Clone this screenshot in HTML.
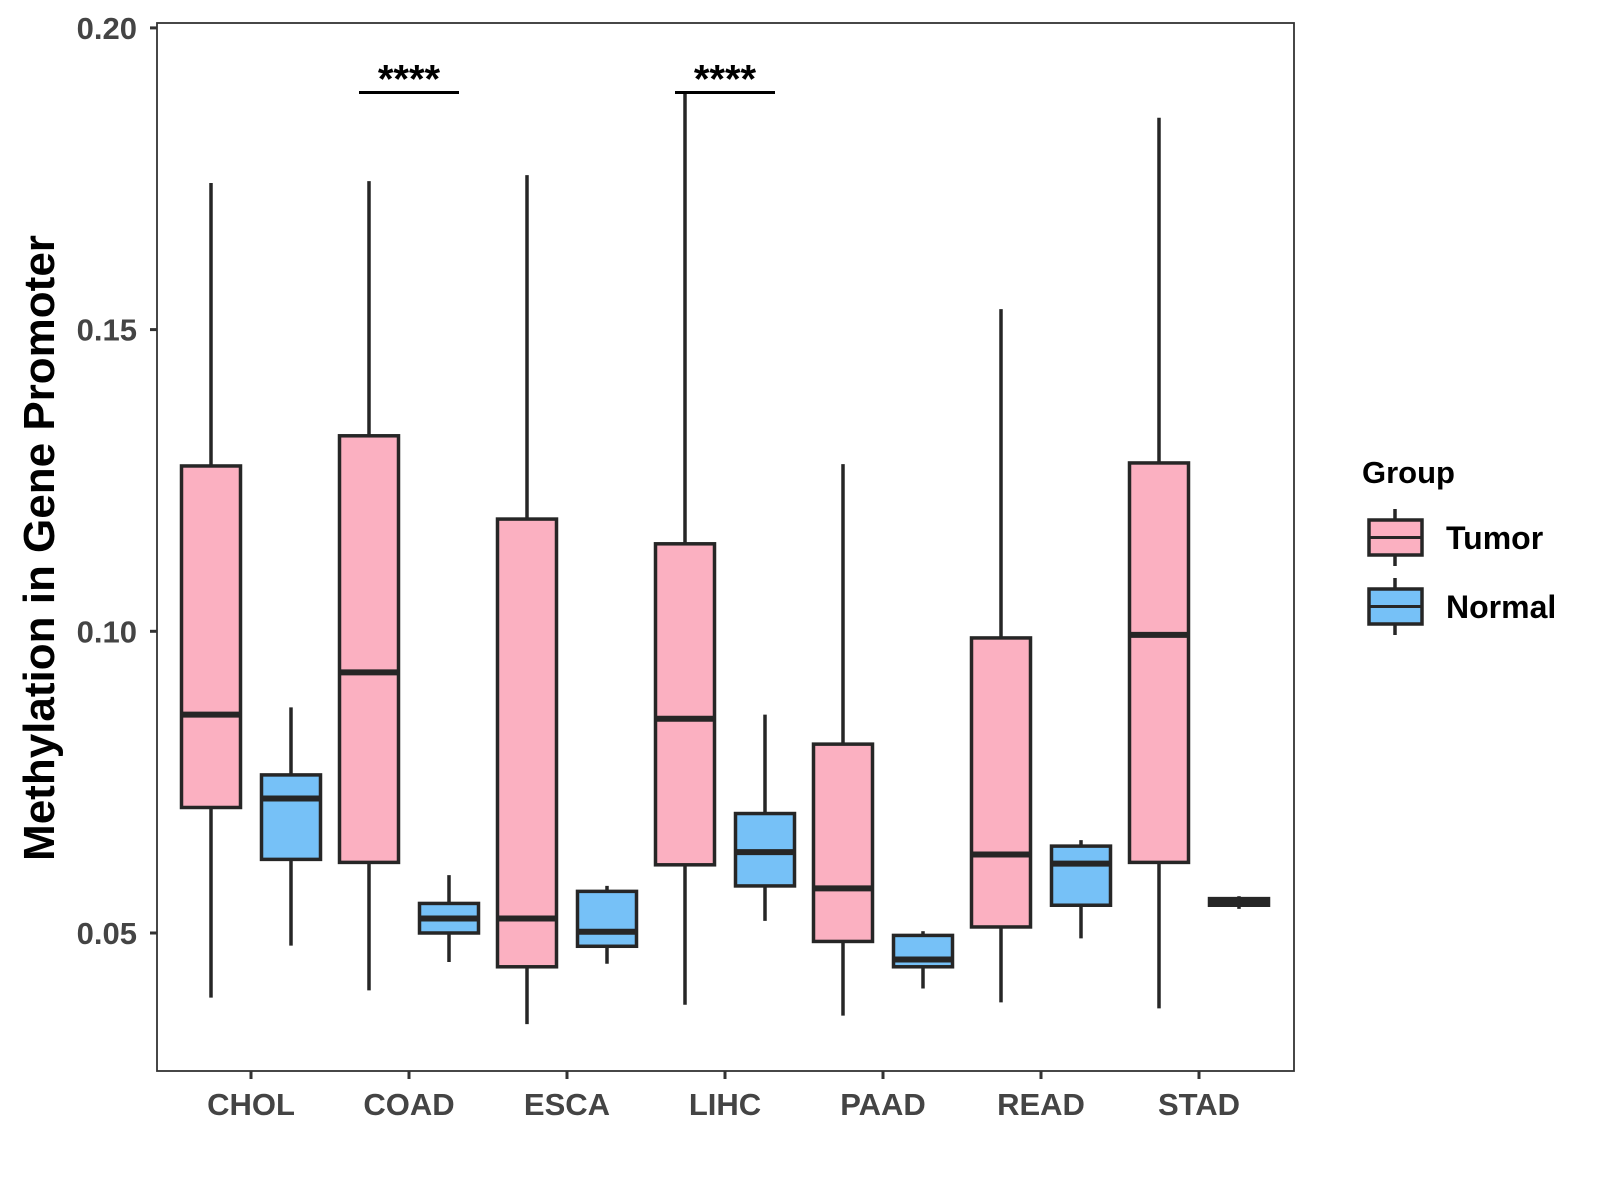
<!DOCTYPE html>
<html><head><meta charset="utf-8"><style>
body{margin:0;background:#fff}
svg{display:block;font-family:"Liberation Sans",Arial,sans-serif;font-weight:bold}
</style></head><body>
<svg id="chart" width="1600" height="1200" viewBox="0 0 1600 1200">
<g id="plot"></g>
</svg>
<script>
const categories=["CHOL","COAD","ESCA","LIHC","PAAD","READ","STAD"];
const groups=["Tumor","Normal"];
// [low, q1, median, q3, high]
const tumorStats=[
[0.0393,0.0708,0.0862,0.1274,0.1743],
[0.0405,0.0617,0.0932,0.1324,0.1746],
[0.0349,0.0444,0.0524,0.1186,0.1756],
[0.0381,0.0613,0.0855,0.1145,0.1895],
[0.0363,0.0486,0.0574,0.0813,0.1277],
[0.0385,0.0510,0.0630,0.0989,0.1534],
[0.0375,0.0617,0.0994,0.1279,0.1851]];
const normalStats=[
[0.0479,0.0622,0.0723,0.0762,0.0874],
[0.0452,0.0500,0.0524,0.0549,0.0596],
[0.0449,0.0478,0.0502,0.0569,0.0578],
[0.0520,0.0578,0.0634,0.0698,0.0862],
[0.0408,0.0444,0.0456,0.0496,0.0503],
[0.0491,0.0546,0.0615,0.0644,0.0654],
[0.0540,0.0546,0.0552,0.0557,0.0561]];
const yTicks=[0.05,0.10,0.15,0.20];
const yTickLabels=["0.05","0.10","0.15","0.20"];
const sigCategories=["COAD","LIHC"];
const sigLabels=["****","****"];
const sigLevel=0.1893;

const NS="http://www.w3.org/2000/svg";
const g=document.getElementById('plot');
const L=157,R=1294,T=23,B=1071;
const y=v=>933-(v-0.05)*(301.7/0.05);
const x=i=>251+i*158;
function el(tag,attrs,parent){const e=document.createElementNS(NS,tag);for(const k in attrs)e.setAttribute(k,attrs[k]);(parent||g).appendChild(e);return e;}

const panel=el('rect',{x:L,y:T,width:R-L,height:B-T,fill:'none',stroke:'#333','stroke-width':1.8});



yTicks.forEach((v,i)=>{
 const t=el('line',{x1:L-7,x2:L,y1:y(v),y2:y(v),stroke:'#333','stroke-width':3});
 
 
 const tx=el('text',{x:L-20,y:y(v)+11,'text-anchor':'end','font-size':31,fill:'#444'});
 tx.textContent=yTickLabels[i];
 
 
});
categories.forEach((c,i)=>{
 const t=el('line',{x1:x(i),x2:x(i),y1:B,y2:B+8,stroke:'#333','stroke-width':3});
 
 
 const tx=el('text',{x:x(i),y:B+44,'text-anchor':'middle','font-size':31,fill:'#444'});
 tx.textContent=c;
 
 
});

function drawBox(cx,s,fill,name){
 const grp=el('g',{});
 
 
 el('line',{x1:cx,x2:cx,y1:y(s[4]),y2:y(s[0]),stroke:'#262626','stroke-width':3.5},grp);
 el('rect',{x:cx-29.5,y:y(s[3]),width:59,height:Math.max(1,y(s[1])-y(s[3])),fill:fill,stroke:'#262626','stroke-width':3.5},grp);
 el('line',{x1:cx-29.5,x2:cx+29.5,y1:y(s[2]),y2:y(s[2]),stroke:'#262626','stroke-width':6},grp);
}
categories.forEach((c,i)=>{
 drawBox(x(i)-40,tumorStats[i],'#FBB0C1','box-tumor-'+c.toLowerCase());
 drawBox(x(i)+40,normalStats[i],'#76C1F7','box-normal-'+c.toLowerCase());
});
sigCategories.forEach((c,k)=>{
 const i=categories.indexOf(c);
 const ln=el('line',{x1:x(i)-50,x2:x(i)+50,y1:y(sigLevel),y2:y(sigLevel),stroke:'#000','stroke-width':3});
 
 
 const tx=el('text',{x:x(i),y:y(sigLevel),'text-anchor':'middle','font-size':40,fill:'#000'});
 tx.textContent=sigLabels[k];
 
 
});
const yt=el('text',{x:0,y:0,'text-anchor':'middle','font-size':44,fill:'#000',transform:'translate(54,548) rotate(-90)'});
yt.textContent='Methylation in Gene Promoter';



const lt=el('text',{x:1362,y:483,'font-size':31,fill:'#000'});
lt.textContent='Group';


const fills=['#FBB0C1','#76C1F7'];
groups.forEach((gname,k)=>{
 const oy=k*69;
 const e=el('g',{});
 
 
 el('line',{x1:1395,x2:1395,y1:509+oy,y2:566+oy,stroke:'#262626','stroke-width':3.5},e);
 el('rect',{x:1369,y:520+oy,width:53,height:35,fill:fills[k],stroke:'#262626','stroke-width':3.5},e);
 el('line',{x1:1369,x2:1422,y1:537.5+oy,y2:537.5+oy,stroke:'#262626','stroke-width':3},e);
 const t=el('text',{x:1446,y:549+oy,'font-size':32,fill:'#000'},e);
 t.textContent=gname;
});
</script>
</body></html>
